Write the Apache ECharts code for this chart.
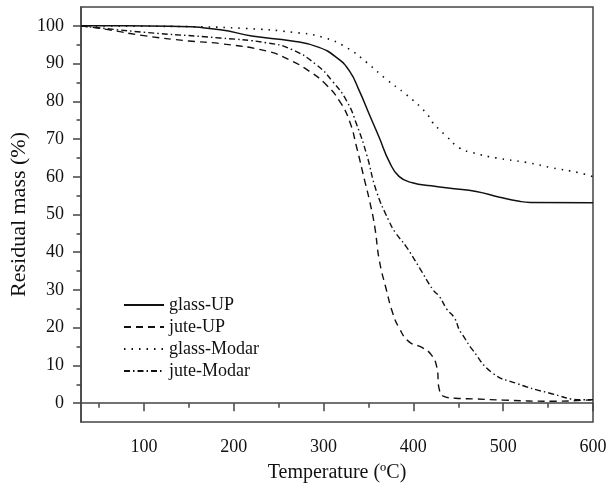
<!DOCTYPE html>
<html>
<head>
<meta charset="utf-8">
<script src="https://cdn.jsdelivr.net/npm/echarts@6/dist/echarts.min.js"></script>
<style>html,body{margin:0;padding:0;background:#fff}#c{width:608px;height:487px}</style>
</head>
<body>
<div id="c"></div>
<script>
// ---- data (temperature °C, residual mass %) ----
var seriesNames = ['glass-UP', 'jute-UP', 'glass-Modar', 'jute-Modar'];
var glassUP = [[30,100],[80,100],[130,99.9],[185,99],[220,97.3],[265,96],[295,94.3],[315,91.5],[329,88],[340,82.7],[351,76.5],[362,70.4],[373,64.1],[384,60.1],[399,58.4],[420,57.6],[443,56.9],[470,56.1],[496,54.6],[518,53.5],[530,53.2],[600,53.1]];
var juteUP = [[30,100],[60,99],[100,97.4],[150,96],[185,95.3],[237,93.3],[262,91],[284,88],[303,84.4],[318,80],[329,74.7],[337,67.7],[346,58.8],[351,53.9],[357,46.8],[362,38],[370,30],[377,23.9],[384,20],[395,16.3],[410,14.7],[420,12.8],[426,9.7],[429,3.5],[434,1.8],[447,1.3],[470,1.1],[500,0.8],[555,0.5],[598,0.9]];
var glassModar = [[30,100],[100,99.9],[150,99.8],[214,99.3],[266,98.3],[299,97],[326,94.2],[348,90.3],[370,85.8],[392,81.8],[414,77],[421,74.5],[429,72.5],[437,70.7],[451,67.7],[466,66.4],[492,65],[526,63.8],[554,62.4],[584,61.1],[600,60]];
var juteModar = [[30,100],[100,98.3],[184,96.8],[237,95.5],[264,93.8],[292,89.7],[310,85.3],[326,80],[337,73.8],[348,65.9],[359,56.1],[373,48.2],[380,45.2],[392,41.5],[407,35.8],[422,30],[429,28.3],[437,25],[446,22.5],[451,19.5],[455,18],[466,14.1],[488,8],[514,5.3],[551,2.7],[589,0.9],[600,0.9]];
var xTicks = [100, 200, 300, 400, 500, 600];
var xMinorTicks = [50, 150, 250, 350, 450, 550];
var yTicks = [0, 10, 20, 30, 40, 50, 60, 70, 80, 90, 100];
var yMinorTicks = [5, 15, 25, 35, 45, 55, 65, 75, 85, 95];

var FONT = 'Liberation Serif';
var AX = '#444';
var chart = echarts.init(document.getElementById('c'), null, {renderer: 'canvas'});

function lineSeries(name, data, type, w) {
  return {
    name: name, type: 'line', data: data, xAxisIndex: 0, yAxisIndex: 0,
    showSymbol: false, symbol: 'none', smooth: 0.5,
    lineStyle: {color: '#111', width: w, type: type},
    itemStyle: {color: '#111'}
  };
}

var option = {
  animation: false,
  backgroundColor: '#fff',
  grid: {left: 81, right: 15, top: 7, bottom: 65, outerBoundsMode: 'none', containLabel: false,
         show: true, borderColor: AX, borderWidth: 1.5, backgroundColor: 'transparent'},
  legend: {
    show: true,
    data: seriesNames, orient: 'vertical', left: 118, top: 291,
    itemWidth: 40, itemHeight: 14, itemGap: 4,
    itemStyle: {opacity: 0},
    textStyle: {fontFamily: FONT, fontSize: 18, color: '#111'}
  },
  xAxis: [{
    type: 'value', min: 30, max: 600, position: 'bottom',
    name: 'Temperature (ºC)', nameLocation: 'middle', nameGap: 41,
    nameTextStyle: {fontFamily: FONT, fontSize: 20, color: '#111'},
    axisLine: {show: true, lineStyle: {color: AX, width: 1.5}},
    axisTick: {show: true, inside: false, length: 8, customValues: xTicks, lineStyle: {color: AX, width: 1.5}},
    axisLabel: {show: true, customValues: xTicks, margin: 16, fontFamily: FONT, fontSize: 18, color: '#111'},
    splitLine: {show: false}
  }, {
    type: 'value', min: 30, max: 600, position: 'bottom', offset: 0,
    axisLine: {show: false},
    axisTick: {show: true, inside: false, length: 4.5, customValues: xMinorTicks, lineStyle: {color: AX, width: 1.5}},
    axisLabel: {show: false},
    splitLine: {show: false}
  }],
  yAxis: [{
    type: 'value', min: -5, max: 105, position: 'left',
    name: 'Residual mass (%)', nameLocation: 'middle', nameGap: 51, nameMoveOverlap: false,
    nameTextStyle: {fontFamily: FONT, fontSize: 22, color: '#111'},
    axisLine: {show: true, lineStyle: {color: AX, width: 1.5}},
    axisTick: {show: true, inside: false, length: 8, customValues: yTicks, lineStyle: {color: AX, width: 1.5}},
    axisLabel: {show: true, customValues: yTicks, margin: 17, fontFamily: FONT, fontSize: 18, color: '#111'},
    splitLine: {show: false}
  }, {
    type: 'value', min: -5, max: 105, position: 'left', offset: 0,
    axisLine: {show: false},
    axisTick: {show: true, inside: false, length: 4.5, customValues: yMinorTicks, lineStyle: {color: AX, width: 1.5}},
    axisLabel: {show: false},
    splitLine: {show: false}
  }],
  series: [
    lineSeries(seriesNames[0], glassUP, 'solid', 1.5),
    lineSeries(seriesNames[1], juteUP, [7, 5], 1.4),
    lineSeries(seriesNames[2], glassModar, [1.5, 6], 1.6),
    lineSeries(seriesNames[3], juteModar, [6, 3, 1.5, 3], 1.4)
  ]
};
chart.setOption(option);
</script>
</body>
</html>
